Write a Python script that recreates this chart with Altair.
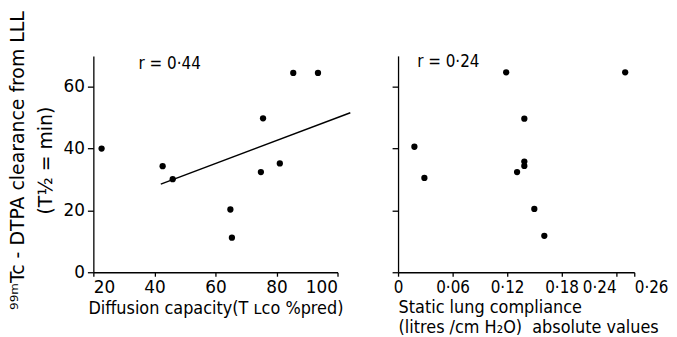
import altair as alt
import pandas as pd

# Left panel: diffusion capacity vs clearance
diff_cap = [22.7, 42.7, 46.0, 64.9, 65.4, 74.9, 75.6, 81.1, 85.5, 93.6]
clear_left = [40.0, 34.3, 30.1, 20.3, 11.2, 32.4, 49.8, 35.2, 64.5, 64.5]
fit_x = [42.1, 104.2]
fit_y = [28.5, 51.6]

# Right panel: static lung compliance vs clearance
compliance = [0.018, 0.029, 0.119, 0.131, 0.139, 0.139, 0.139, 0.150, 0.161, 0.250]
clear_right = [40.6, 30.5, 64.7, 32.4, 35.8, 34.4, 49.7, 20.5, 11.8, 64.7]

x_ticks_left = [20, 40, 60, 80, 100]
x_ticks_right = [0, 0.06, 0.12, 0.18, 0.24, 0.26]
y_ticks = [0, 10, 20, 30, 40, 50, 60, 70]

r_left = "r = 0·44"
r_right = "r = 0·24"

FONT = "DejaVu Sans Condensed, DejaVu Sans"
LFONT = "DejaVu Sans"

left_df = pd.DataFrame({"x": diff_cap, "y": clear_left})
fit_df = pd.DataFrame({"x": fit_x, "y": fit_y})
right_df = pd.DataFrame({"x": compliance, "y": clear_right})
rl_df = pd.DataFrame({"x": [34.8], "y": [67.3], "t": [r_left]})
rr_df = pd.DataFrame({"x": [0.021], "y": [68.0], "t": [r_right]})

yscale = alt.Scale(domain=[0, 70], nice=False, zero=True)
xscale_l = alt.Scale(domain=[20, 100], nice=False, zero=False)
xscale_r = alt.Scale(domain=[0, 0.26], nice=False, zero=True)

y_axis_left = alt.Axis(
    values=y_ticks,
    labelExpr="(datum.value % 20 == 0 && datum.value <= 60) ? datum.label : ''",
    title=["⁹⁹ᵐTc - DTPA clearance from LLL", "(T½ = min)"],
    titleFont=LFONT,
    titleFontSize=19,
    titleFontWeight="normal",
    titleLineHeight=28,
    titlePadding=8,
    titleY=105,
    tickSize=6,
    grid=False,
)
x_axis_left = alt.Axis(
    values=x_ticks_left,
    title="Diffusion capacity(T ʟco %pred)",
    titleFontSize=18,
    titleFontWeight="normal",
    titlePadding=5,
    tickSize=4,
    grid=False,
    labelOverlap=False,
)
y_axis_right = alt.Axis(values=y_ticks, labels=False, title=None, tickSize=6, grid=False)
x_axis_right = alt.Axis(
    values=x_ticks_right,
    labelExpr="datum.value == 0 ? '0' : replace(format(datum.value, '.2f'), '.', '·')",
    labelAlign={"condition": [{"test": "datum.value >= 0.25", "value": "left"},
                              {"test": "datum.value >= 0.23", "value": "right"}],
                "value": "center"},
    labelOverlap=False,
    labelFont=FONT,
    title=["Static lung compliance", "(litres /cm H₂O)\u00a0 absolute values"],
    titleFontSize=18,
    titleFontWeight="normal",
    titleAlign="left",
    titleAnchor="start",
    titleLineHeight=20,
    titlePadding=4,
    tickSize=4,
    grid=False,
)

pts_l = alt.Chart(left_df).mark_circle(size=40, color="black", opacity=1).encode(
    x=alt.X("x:Q", scale=xscale_l, axis=x_axis_left),
    y=alt.Y("y:Q", scale=yscale, axis=y_axis_left),
)
line_l = alt.Chart(fit_df).mark_line(color="black", strokeWidth=1.5, clip=False).encode(
    x=alt.X("x:Q", scale=xscale_l), y=alt.Y("y:Q", scale=yscale)
)
txt_l = alt.Chart(rl_df).mark_text(align="left", baseline="middle", fontSize=17, font=FONT, color="black").encode(
    x=alt.X("x:Q", scale=xscale_l), y=alt.Y("y:Q", scale=yscale), text="t:N"
)
left = alt.layer(line_l, pts_l, txt_l).properties(width=246, height=218)

pts_r = alt.Chart(right_df).mark_circle(size=40, color="black", opacity=1).encode(
    x=alt.X("x:Q", scale=xscale_r, axis=x_axis_right),
    y=alt.Y("y:Q", scale=yscale, axis=y_axis_right),
)
txt_r = alt.Chart(rr_df).mark_text(align="left", baseline="middle", fontSize=17, font=FONT, color="black").encode(
    x=alt.X("x:Q", scale=xscale_r), y=alt.Y("y:Q", scale=yscale), text="t:N"
)
right = alt.layer(pts_r, txt_r).properties(width=238, height=218)

chart = alt.hconcat(left, right, spacing=61, bounds="flush").properties(
    padding={"left": 0, "top": 1, "right": 0, "bottom": 0}, background="white"
).configure_view(stroke=None).configure_axis(
    domainColor="black", tickColor="black", labelColor="black", titleColor="black",
    domainWidth=1.3, tickWidth=1.3, labelFont=LFONT, titleFont=FONT, labelFontSize=17,
    labelPadding=3,
)

chart.save("out.html", embed_options={"renderer": "svg", "actions": False})
